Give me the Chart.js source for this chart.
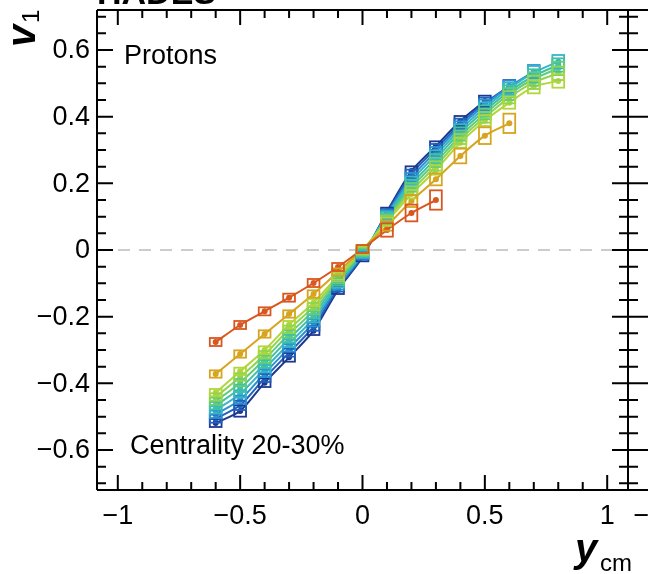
<!DOCTYPE html>
<html>
<head>
<meta charset="utf-8">
<script src="https://cdn.jsdelivr.net/npm/chart.js@4.4.1/dist/chart.umd.min.js"></script>
<style>
  html, body { margin: 0; padding: 0; background: #fff; }
  #wrap { width: 648px; height: 574px; position: relative; }
</style>
</head>
<body>
<div id="wrap"><canvas id="chart"></canvas></div>
<script>
// rapidity bins (y_cm)
const yBins = [-0.6, -0.5, -0.4, -0.3, -0.2, -0.1, 0, 0.1, 0.2, 0.3, 0.4, 0.5, 0.6, 0.7, 0.8];

// v1 per series (red -> navy), null = no point
const v1Red    = [-0.276, -0.225, -0.184, -0.143, -0.099, -0.051, 0.003, 0.060, 0.111, 0.150, null, null, null, null, null];
const v1Orange = [-0.372, -0.312, -0.252, -0.192, -0.132, -0.066, 0.002, 0.073, 0.147, 0.212, 0.282, 0.343, 0.380, null, null];
const v1Lime   = [-0.428, -0.364, -0.300, -0.224, -0.158, -0.078, 0.000, 0.085, 0.168, 0.240, 0.322, 0.388, 0.442, 0.490, 0.507];
const v1Light  = [-0.441, -0.381, -0.314, -0.238, -0.170, -0.084, -0.003, 0.090, 0.178, 0.252, 0.333, 0.398, 0.458, 0.503, 0.530];
const v1Green  = [-0.454, -0.398, -0.328, -0.252, -0.182, -0.090, -0.006, 0.094, 0.188, 0.263, 0.343, 0.408, 0.468, 0.513, 0.545];
const v1Sea    = [-0.467, -0.415, -0.342, -0.266, -0.194, -0.096, -0.009, 0.098, 0.198, 0.274, 0.353, 0.418, 0.476, 0.522, 0.555];
const v1Teal   = [-0.480, -0.432, -0.356, -0.280, -0.206, -0.102, -0.012, 0.103, 0.208, 0.285, 0.362, 0.427, 0.484, 0.532, 0.565];
const v1Sky    = [-0.493, -0.449, -0.370, -0.294, -0.218, -0.108, -0.015, 0.107, 0.218, 0.295, 0.371, 0.435, 0.490, 0.535, null];
const v1Blue   = [-0.506, -0.466, -0.384, -0.308, -0.230, -0.114, -0.018, 0.111, 0.228, 0.304, 0.379, 0.441, 0.492, null, null];
const v1Navy   = [-0.519, -0.483, -0.398, -0.322, -0.242, -0.120, -0.022, 0.115, 0.237, 0.312, 0.387, 0.447, null, null, null];

// systematic uncertainties (half height of the boxes)
const sysRed    = [0.012, 0.012, 0.012, 0.012, 0.012, 0.012, 0.012, 0.020, 0.025, 0.029];
const sysOrange = [0.011, 0.011, 0.011, 0.011, 0.011, 0.011, 0.012, 0.015, 0.018, 0.018, 0.022, 0.025, 0.029];
const sysLime   = [0.011, 0.011, 0.011, 0.011, 0.011, 0.011, 0.011, 0.012, 0.013, 0.014, 0.015, 0.016, 0.018, 0.020, 0.020];
const sysLight  = [0.011, 0.011, 0.011, 0.011, 0.011, 0.011, 0.011, 0.012, 0.013, 0.014, 0.015, 0.016, 0.018, 0.020, 0.020];
const sysGreen  = [0.011, 0.011, 0.011, 0.011, 0.011, 0.011, 0.011, 0.012, 0.013, 0.014, 0.015, 0.016, 0.018, 0.020, 0.020];
const sysSea    = [0.011, 0.011, 0.011, 0.011, 0.011, 0.011, 0.011, 0.012, 0.013, 0.014, 0.015, 0.016, 0.018, 0.020, 0.020];
const sysTeal   = [0.011, 0.011, 0.011, 0.011, 0.011, 0.011, 0.011, 0.012, 0.013, 0.014, 0.015, 0.016, 0.018, 0.020, 0.020];
const sysSky    = [0.011, 0.012, 0.011, 0.011, 0.011, 0.011, 0.011, 0.012, 0.013, 0.014, 0.015, 0.016, 0.018, 0.020];
const sysBlue   = [0.012, 0.014, 0.012, 0.012, 0.012, 0.011, 0.011, 0.012, 0.013, 0.014, 0.015, 0.016, 0.018];
const sysNavy   = [0.012, 0.017, 0.013, 0.013, 0.013, 0.012, 0.012, 0.012, 0.014, 0.014, 0.015, 0.016];

const seriesVals = [v1Red, v1Orange, v1Lime, v1Light, v1Green, v1Sea, v1Teal, v1Sky, v1Blue, v1Navy];
const seriesSys  = [sysRed, sysOrange, sysLime, sysLight, sysGreen, sysSea, sysTeal, sysSky, sysBlue, sysNavy];
const seriesColors = ['#d9561e', '#d6a41f', '#b0d63a', '#8fd452', '#62cc78', '#40c2a2', '#36b6c6', '#2a92d2', '#2162bb', '#1c3892'];

// axes
const xTickVals = [-1, -0.5, 0, 0.5, 1];
const xTickLabels = ['\u22121', '\u22120.5', '0', '0.5', '1'];
const yTickVals = [-0.6, -0.4, -0.2, 0, 0.2, 0.4, 0.6];
const yTickLabels = ['\u22120.6', '\u22120.4', '\u22120.2', '0', '0.2', '0.4', '0.6'];
const xRange = [-1.085, 1.085];
const yRange = [-0.72, 0.72];

const FONT = '"Liberation Sans", Arial, Helvetica, sans-serif';
const BOX_HALF = 0.024;

const datasets = seriesVals.map((vals, s) => ({
  label: 's' + s,
  data: vals.map((v, i) => (v === null ? null : { x: yBins[i], y: v })).filter(p => p),
  borderColor: seriesColors[s],
  backgroundColor: seriesColors[s],
  borderWidth: 2,
  pointRadius: 3,
  pointBorderWidth: 0,
  showLine: true,
  tension: 0.25,
  order: s
}));

datasets.push({
  label: 'zero',
  data: [{ x: xRange[0], y: 0 }, { x: xRange[1], y: 0 }],
  borderColor: '#cccccc',
  borderWidth: 2,
  borderDash: [12, 9],
  pointRadius: 0,
  showLine: true,
  order: 20
});

const rootStyle = {
  id: 'rootStyle',
  beforeDraw(chart) {
    const ctx = chart.ctx;
    ctx.save();
    ctx.fillStyle = '#fff';
    ctx.fillRect(0, 0, chart.width, chart.height);
    ctx.restore();
  },
  afterDatasetsDraw(chart) {
    const { ctx, chartArea: a, scales: { x, y } } = chart;
    ctx.save();
    ctx.beginPath();
    ctx.rect(a.left, a.top, a.right - a.left, a.bottom - a.top);
    ctx.clip();
    ctx.lineWidth = 1.8;
    for (let s = seriesVals.length - 1; s >= 0; s--) {
      ctx.strokeStyle = seriesColors[s];
      seriesVals[s].forEach((v, i) => {
        if (v === null) return;
        const e = seriesSys[s][i];
        const x0 = x.getPixelForValue(yBins[i] - BOX_HALF);
        const x1 = x.getPixelForValue(yBins[i] + BOX_HALF);
        const y0 = y.getPixelForValue(v + e);
        const y1 = y.getPixelForValue(v - e);
        ctx.strokeRect(x0, y0, x1 - x0, y1 - y0);
      });
    }
    ctx.restore();
  },
  afterDraw(chart) {
    const { ctx, chartArea: a, scales: { x, y } } = chart;
    const W = chart.width;
    ctx.save();
    ctx.strokeStyle = '#000';
    ctx.fillStyle = '#000';
    ctx.lineWidth = 2;

    // frame (top/bottom lines run on into the next pad)
    ctx.beginPath();
    ctx.moveTo(a.left, a.top); ctx.lineTo(W, a.top);
    ctx.moveTo(a.left, a.bottom); ctx.lineTo(W, a.bottom);
    ctx.moveTo(a.left, a.top); ctx.lineTo(a.left, a.bottom);
    ctx.moveTo(a.right, a.top); ctx.lineTo(a.right, a.bottom);
    ctx.stroke();

    // x ticks, bottom and top
    ctx.beginPath();
    for (let k = -10; k <= 10; k++) {
      const px = x.getPixelForValue(k / 10);
      const len = k % 5 === 0 ? 15 : 8;
      ctx.moveTo(px, a.bottom); ctx.lineTo(px, a.bottom - len);
      ctx.moveTo(px, a.top); ctx.lineTo(px, a.top + len);
    }
    // y ticks, left and right, plus the next pad's ticks right of the shared line
    for (let k = -14; k <= 14; k++) {
      const py = y.getPixelForValue(k * 0.05);
      const major = k % 4 === 0;
      const len = major ? 16 : 9;
      ctx.moveTo(a.left, py); ctx.lineTo(a.left + len, py);
      ctx.moveTo(a.right, py); ctx.lineTo(a.right - len, py);
      ctx.moveTo(a.right, py); ctx.lineTo(a.right + (major ? 22 : 10), py);
    }
    ctx.stroke();

    // tick labels
    ctx.font = '27px ' + FONT;
    ctx.textAlign = 'center';
    ctx.textBaseline = 'middle';
    xTickVals.forEach((v, i) => ctx.fillText(xTickLabels[i], x.getPixelForValue(v), a.bottom + 27));
    // next pad's first label, cut at the edge
    ctx.fillText('\u22121', 649, a.bottom + 27);
    ctx.textAlign = 'right';
    yTickVals.forEach((v, i) => ctx.fillText(yTickLabels[i], a.left - 7, y.getPixelForValue(v) + 1));

    // in-pad texts
    ctx.textAlign = 'left';
    ctx.font = '27px ' + FONT;
    ctx.fillText('Protons', 124, 57);
    ctx.fillText('Centrality 20-30%', 130, 447);

    // experiment label, cut at the top
    ctx.font = 'bold 34px ' + FONT;
    ctx.textBaseline = 'alphabetic';
    ctx.fillText('HADES', 97, 4);

    // axis titles
    ctx.font = 'bold italic 40px ' + FONT;
    ctx.fillText('y', 575, 562);
    ctx.font = '24px ' + FONT;
    ctx.fillText('cm', 600, 571);

    ctx.save();
    ctx.translate(35, 47);
    ctx.rotate(-Math.PI / 2);
    ctx.font = 'bold italic 40px ' + FONT;
    ctx.fillText('v', 0, 0);
    ctx.font = '24px ' + FONT;
    ctx.fillText('1', 24, 4);
    ctx.restore();

    ctx.restore();
  }
};

new Chart(document.getElementById('chart'), {
  type: 'scatter',
  data: { datasets },
  options: {
    responsive: true,
    maintainAspectRatio: false,
    animation: false,
    layout: { padding: { left: 97, right: 20, top: 10, bottom: 84 } },
    plugins: { legend: { display: false }, tooltip: { enabled: false } },
    scales: {
      x: { type: 'linear', display: false, min: xRange[0], max: xRange[1] },
      y: { type: 'linear', display: false, min: yRange[0], max: yRange[1] }
    }
  },
  plugins: [rootStyle]
});
</script>
</body>
</html>
